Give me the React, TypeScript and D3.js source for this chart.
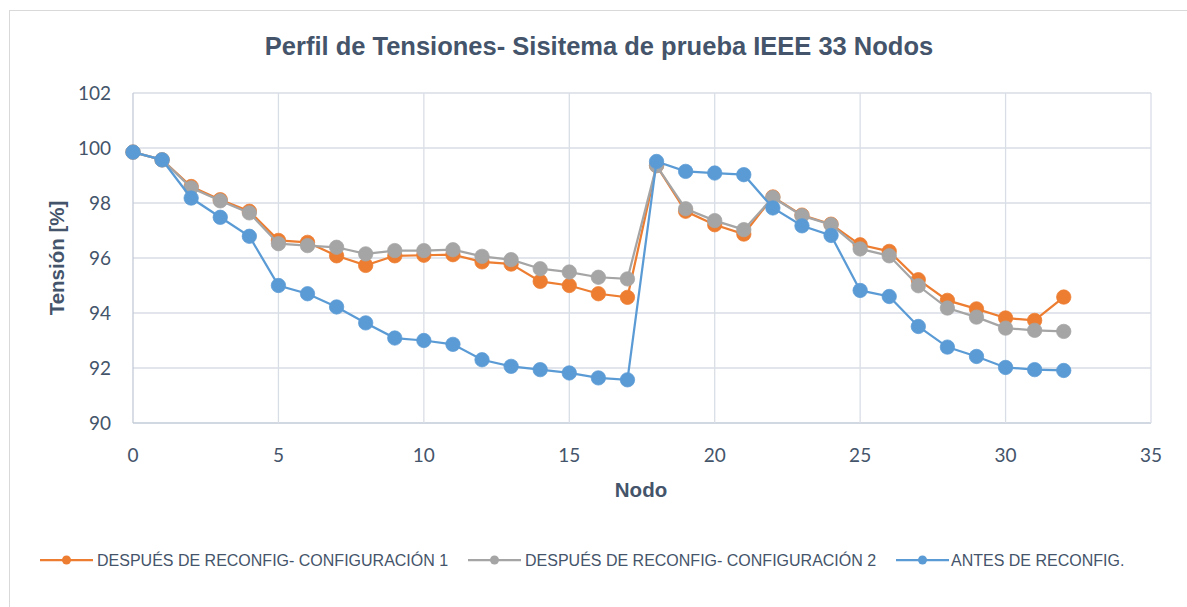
import React from 'react';
import * as d3 from 'd3';

// ---------------------------------------------------------------------------
// Data
// ---------------------------------------------------------------------------

const NODES = [
  0, 1, 2, 3, 4, 5, 6, 7, 8, 9, 10, 11, 12, 13, 14, 15, 16, 17, 18, 19, 20,
  21, 22, 23, 24, 25, 26, 27, 28, 29, 30, 31, 32,
];

const CONF1 = [
  99.85, 99.57, 98.6, 98.12, 97.7, 96.64, 96.57, 96.08, 95.73, 96.08, 96.1,
  96.12, 95.86, 95.78, 95.15, 95.0, 94.7, 94.57, 99.36, 97.7, 97.21, 96.87,
  98.22, 97.56, 97.23, 96.48, 96.24, 95.21, 94.46, 94.15, 93.82, 93.73, 94.58,
];

const CONF2 = [
  99.85, 99.57, 98.55, 98.08, 97.64, 96.52, 96.45, 96.39, 96.15, 96.27, 96.27,
  96.3, 96.06, 95.94, 95.61, 95.49, 95.3, 95.24, 99.36, 97.79, 97.36, 97.03,
  98.2, 97.54, 97.21, 96.33, 96.08, 94.99, 94.18, 93.85, 93.45, 93.37, 93.33,
];

const ANTES = [
  99.85, 99.57, 98.18, 97.48, 96.79, 95.0, 94.7, 94.22, 93.64, 93.09, 93.0,
  92.86, 92.3, 92.06, 91.94, 91.82, 91.64, 91.57, 99.51, 99.15, 99.09, 99.03,
  97.82, 97.17, 96.82, 94.82, 94.6, 93.51, 92.76, 92.42, 92.02, 91.94, 91.91,
];

const X_TICKS = [0, 5, 10, 15, 20, 25, 30, 35];
const Y_TICKS = [90, 92, 94, 96, 98, 100, 102];

const SERIES = [
  { name: 'DESPUÉS DE RECONFIG- CONFIGURACIÓN 1', values: CONF1, color: '#ED7D31' },
  { name: 'DESPUÉS DE RECONFIG- CONFIGURACIÓN 2', values: CONF2, color: '#A5A5A5' },
  { name: 'ANTES DE RECONFIG.', values: ANTES, color: '#5B9BD5' },
];

// ---------------------------------------------------------------------------
// Styles
// ---------------------------------------------------------------------------

const WIDTH = 1187;
const HEIGHT = 607;
const PLOT = { left: 133, right: 1151, top: 93, bottom: 423 };
const GRID_COLOR = '#D9DEE6';
const AXIS_COLOR = '#C3CBD8';
const TEXT_COLOR = '#44546A';
const TICK_FONT = 'Lato, "Open Sans", sans-serif';
const MAIN_FONT = '"Liberation Sans", Arial, sans-serif';

export default function App() {
  const x = d3.scaleLinear().domain([0, 35]).range([PLOT.left, PLOT.right]);
  const y = d3.scaleLinear().domain([90, 102]).range([PLOT.bottom, PLOT.top]);

  const line = (vals: number[]) =>
    d3.line<number>()
      .x((_d, i) => x(NODES[i]))
      .y((d) => y(d))(vals) || '';

  const legendItems = [
    { lineX: 40, textX: 97 },
    { lineX: 468, textX: 525 },
    { lineX: 896, textX: 951 },
  ];
  const legendY = 560;

  return (
    <svg
      width={WIDTH}
      height={HEIGHT}
      style={{ position: 'fixed', left: 0, top: 0, background: '#fff' }}
    >
      {/* chart border */}
      <rect x={9.5} y={10.5} width={1300} height={700} fill="#fff" stroke="#D9D9D9" />

      {/* title */}
      <text
        x={599}
        y={55}
        textAnchor="middle"
        fontFamily={MAIN_FONT}
        fontWeight="bold"
        fontSize={25.5}
        fill={TEXT_COLOR}
      >
        Perfil de Tensiones- Sisitema de prueba IEEE 33 Nodos
      </text>

      {/* grid */}
      {Y_TICKS.map((t) => (
        <line
          key={'gy' + t}
          x1={PLOT.left}
          x2={PLOT.right}
          y1={y(t)}
          y2={y(t)}
          stroke={t === 90 ? AXIS_COLOR : GRID_COLOR}
          strokeWidth={1.3}
        />
      ))}
      {X_TICKS.map((t) => (
        <line
          key={'gx' + t}
          x1={x(t)}
          x2={x(t)}
          y1={PLOT.top}
          y2={PLOT.bottom}
          stroke={t === 0 ? AXIS_COLOR : GRID_COLOR}
          strokeWidth={1.3}
        />
      ))}

      {/* tick labels */}
      {Y_TICKS.map((t) => (
        <text
          key={'ty' + t}
          x={111}
          y={y(t)}
          dy="0.35em"
          textAnchor="end"
          fontFamily={TICK_FONT}
          fontSize={19}
          fill={TEXT_COLOR}
        >
          {t}
        </text>
      ))}
      {X_TICKS.map((t) => (
        <text
          key={'tx' + t}
          x={x(t)}
          y={455}
          dy="0.35em"
          textAnchor="middle"
          fontFamily={TICK_FONT}
          fontSize={19}
          fill={TEXT_COLOR}
        >
          {t}
        </text>
      ))}

      {/* axis titles */}
      <text
        x={641}
        y={490}
        dy="0.35em"
        textAnchor="middle"
        fontFamily={MAIN_FONT}
        fontWeight="bold"
        fontSize={20.5}
        fill={TEXT_COLOR}
      >
        Nodo
      </text>
      <text
        transform={`translate(57,${(PLOT.top + PLOT.bottom) / 2}) rotate(-90)`}
        dy="0.35em"
        textAnchor="middle"
        fontFamily={MAIN_FONT}
        fontWeight="bold"
        fontSize={20.5}
        fill={TEXT_COLOR}
      >
        Tensión [%]
      </text>

      {/* series */}
      {SERIES.map((s) => (
        <g key={s.name}>
          <path d={line(s.values)} fill="none" stroke={s.color} strokeWidth={2.25} />
          {s.values.map((v, i) => (
            <circle
              key={i}
              cx={x(NODES[i])}
              cy={y(v)}
              r={7.2}
              fill={s.color}
              stroke={s.color}
              strokeWidth={0.75}
            />
          ))}
        </g>
      ))}

      {/* legend */}
      {SERIES.map((s, i) => (
        <g key={'lg' + s.name}>
          <line
            x1={legendItems[i].lineX}
            x2={legendItems[i].lineX + 53}
            y1={legendY}
            y2={legendY}
            stroke={s.color}
            strokeWidth={2.25}
          />
          <circle cx={legendItems[i].lineX + 26.5} cy={legendY} r={4.5} fill={s.color} />
          <text
            x={legendItems[i].textX}
            y={legendY}
            dy="0.35em"
            fontFamily={MAIN_FONT}
            fontSize={16}
            fill={TEXT_COLOR}
          >
            {s.name}
          </text>
        </g>
      ))}
    </svg>
  );
}
